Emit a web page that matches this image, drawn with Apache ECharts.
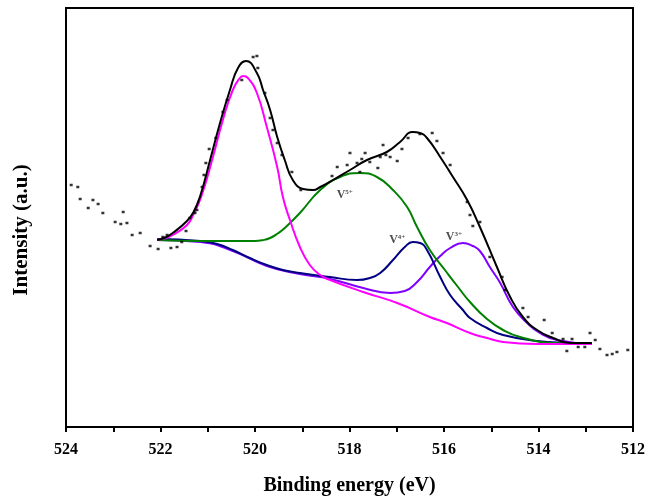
<!DOCTYPE html>
<html><head><meta charset="utf-8">
<script src="https://cdn.jsdelivr.net/npm/echarts@6/dist/echarts.min.js"></script>
<style>html,body{margin:0;padding:0;background:#fff}#c{width:659px;height:497px}</style>
</head><body><div id="c"></div>
<script>
// Binding energy (eV) / intensity (a.u.) pairs
const rawData = [[523.89,2420],[523.75,2400],[523.70,2280],[523.53,2190],[523.43,2270],[523.32,2230],[523.22,2140],[522.96,2050],[522.84,2030],[522.79,2150],[522.71,2040],[522.60,1920],[522.43,1940],[522.22,1810],[522.05,1780],[521.95,1900],[521.86,1920],[521.78,1790],[521.65,1800],[521.55,1850],[521.46,1960],[521.38,2090],[521.27,2140],[521.23,2170],[521.12,2400],[521.08,2520],[521.04,2640],[520.97,2780],[520.83,2890],[520.68,3150],[520.59,3270],[520.28,3470],[520.04,3700],[519.96,3710],[519.94,3590],[519.79,3340],[519.68,3090],[519.62,2970],[519.53,2840],[519.43,2720],[519.22,2550],[519.03,2370],[518.37,2510],[518.26,2600],[518.05,2620],[517.99,2740],[517.84,2640],[517.78,2550],[517.74,2680],[517.67,2740],[517.57,2650],[517.40,2590],[517.35,2700],[517.29,2820],[517.23,2720],[517.14,2700],[516.99,2660],[516.89,2780],[516.76,2890],[516.51,2930],[516.25,2940],[516.15,2860],[516.02,2740],[515.87,2620],[515.51,2250],[515.45,2120],[515.39,2010],[515.24,2050],[515.03,1700],[514.77,1500],[514.71,1370],[514.33,1190],[514.22,1100],[513.88,1070],[513.71,940],[513.48,880],[513.40,760],[513.29,880],[513.16,800],[513.02,800],[512.91,940],[512.80,870],[512.70,780],[512.55,720],[512.44,730],[512.34,750],[512.11,770]];
const envelope = [[522.07,1870],[521.90,1895],[521.74,1940],[521.44,2060],[521.30,2150],[521.16,2310],[520.95,2670],[520.74,3040],[520.53,3370],[520.36,3590],[520.19,3660],[519.96,3540],[519.83,3370],[519.68,3170],[519.53,2900],[519.37,2670],[519.20,2470],[518.98,2380],[518.77,2370],[518.62,2400],[518.35,2470],[517.99,2570],[517.63,2670],[517.21,2750],[516.93,2850],[516.66,2950],[516.51,2940],[516.36,2890],[516.08,2700],[515.81,2500],[515.51,2270],[515.24,2000],[514.88,1600],[514.60,1300],[514.33,1100],[514.03,970],[513.69,890],[513.33,840],[512.87,840]];
const peakV2p1 = [[522.07,1870],[521.90,1890],[521.74,1920],[521.44,2020],[521.30,2130],[521.14,2300],[520.89,2700],[520.68,3070],[520.47,3370],[520.32,3490],[520.25,3510],[520.15,3490],[519.96,3340],[519.75,3000],[519.53,2600],[519.41,2300],[519.26,2070],[519.05,1800],[518.84,1620],[518.62,1520],[518.41,1470],[517.71,1350],[516.99,1240],[516.30,1100],[515.94,1040],[515.45,940],[515.09,890],[514.75,850],[514.03,830],[512.87,830]];
const peakV5 = [[522.07,1870],[521.16,1860],[520.47,1860],[520.00,1860],[519.84,1868],[519.68,1890],[519.52,1935],[519.37,1990],[519.05,2140],[518.62,2370],[518.20,2500],[517.78,2540],[517.42,2500],[517.08,2370],[516.78,2200],[516.57,2000],[516.30,1770],[515.98,1570],[515.72,1410],[515.45,1250],[515.09,1080],[514.75,970],[514.39,900],[513.69,840],[512.87,830]];
const peakV4 = [[522.07,1880],[521.16,1860],[520.80,1830],[520.47,1770],[520.11,1690],[519.75,1620],[519.41,1570],[519.05,1540],[518.41,1500],[517.84,1470],[517.57,1490],[517.35,1540],[517.08,1670],[516.83,1800],[516.66,1850],[516.51,1840],[516.36,1770],[516.08,1500],[515.87,1320],[515.60,1170],[515.45,1090],[515.09,990],[514.75,920],[514.03,860],[513.33,840],[512.87,830]];
const peakV3 = [[522.07,1870],[521.16,1850],[520.47,1760],[519.75,1610],[519.05,1530],[518.41,1480],[517.71,1390],[517.14,1340],[516.83,1360],[516.57,1450],[516.30,1600],[516.08,1710],[515.87,1790],[515.60,1840],[515.39,1810],[515.24,1760],[515.03,1600],[514.81,1440],[514.54,1200],[514.24,1040],[513.97,940],[513.61,870],[512.87,830]];
const peakLabels = [{name:'5+', value:[518.10,2320]},{name:'4+', value:[516.99,1870]},{name:'3+', value:[515.79,1900]}];
const xMin = 512, xMax = 524;

const chart = echarts.init(document.getElementById('c'));
const serif = '"Liberation Serif","Times New Roman",serif';
function line(data, color, z){
  return {type:'line', data, smooth:0.5, showSymbol:false, symbol:'none', z,
    lineStyle:{color, width:2}, silent:true, animation:false};
}
chart.setOption({
  animation:false,
  grid:{left:66, top:8, right:26, bottom:70, containLabel:false, outerBoundsMode:'none',
    show:true, borderColor:'#000', borderWidth:2, backgroundColor:'transparent'},
  xAxis:{type:'value', inverse:true, min:xMin, max:xMax, interval:1,
    name:'Binding energy (eV)', nameLocation:'middle', nameGap:49,
    nameTextStyle:{fontFamily:serif, fontWeight:'bold', fontSize:20, color:'#000'},
    axisLine:{lineStyle:{color:'#000', width:2}},
    axisTick:{show:true, inside:false, length:5, lineStyle:{color:'#000', width:2}},
    axisLabel:{fontFamily:serif, fontWeight:'bold', fontSize:16, color:'#000', margin:15,
      formatter:v => (v % 2 === 0 ? String(v) : '')},
    splitLine:{show:false}},
  yAxis:{type:'value', min:0, max:4190, show:true,
    axisLine:{show:true, lineStyle:{color:'#000', width:2}},
    axisTick:{show:false}, axisLabel:{show:false}, splitLine:{show:false}},
  graphic:[{type:'text', x:22, y:230, rotation:Math.PI/2,
    style:{text:'Intensity (a.u.)', font:'bold 21px '+serif, fill:'#000', align:'center', verticalAlign:'middle'}, z:10}],
  series:[
    line(peakV3, '#8000ff', 2),
    line(peakV4, '#000080', 3),
    line(peakV5, '#008000', 4),
    line(peakV2p1, '#ff00ff', 5),
    line(envelope, '#000000', 6),
    {type:'scatter', data:rawData, symbol:'rect', symbolSize:[3,2.5], z:7,
      itemStyle:{color:'#000'}, silent:true},
    {type:'scatter', data:peakLabels, symbolSize:0, z:8, silent:true,
      label:{show:true, position:'inside',
        formatter:p => '{v|V}{s|' + p.name + '}',
        rich:{v:{fontFamily:serif, fontWeight:'bold', fontSize:12, color:'#222'},
              s:{fontFamily:serif, fontWeight:'bold', fontSize:7, color:'#222', verticalAlign:'top', padding:[0,0,6,0]}}}}
  ]
});
</script></body></html>
